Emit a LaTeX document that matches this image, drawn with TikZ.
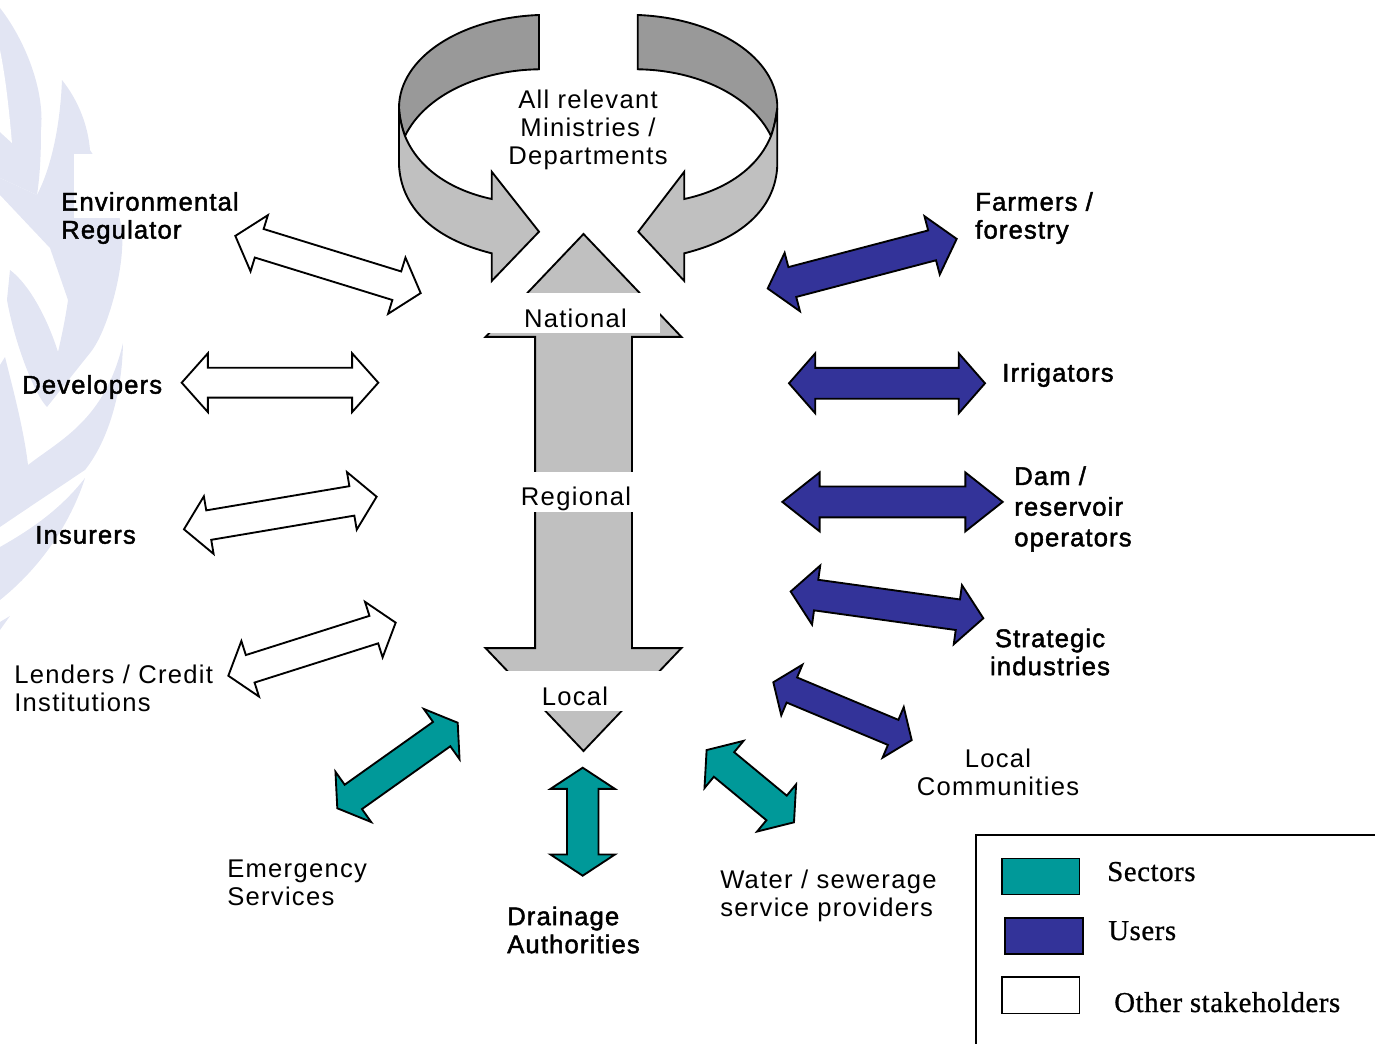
\documentclass[tikz,border=0pt]{standalone}
\usepackage{fontspec}
\setmainfont{Liberation Sans}
\newfontfamily\plainlabel[LetterSpace=5]{Liberation Sans}
\newfontfamily\heavylabel[LetterSpace=4.5,FakeBold=1.8]{Liberation Sans}
\newfontfamily\legendlabel[LetterSpace=2,FakeBold=0.8]{Liberation Serif}
\usetikzlibrary{shapes.arrows}

\definecolor{sectorteal}{HTML}{009999}
\definecolor{userblue}{HTML}{333399}
\definecolor{flowgrey}{HTML}{C0C0C0}
\definecolor{backgrey}{HTML}{999999}
\definecolor{leafblue}{HTML}{E2E5F3}

\tikzset{
    twoway/.style n args={4}{double arrow, draw=black, line width=1.4pt, inner sep=0pt, outer sep=0pt,
        text height={(#3-2)*0.375pt}, text depth={(#3-2)*0.375pt}, text width=0pt,
        minimum height=#1*0.75pt, minimum width=(#2-3)*0.75pt,
        double arrow head extend={(#2-#3-1)/2*0.75pt},
        double arrow tip angle={2*atan(#2/2/#4)}},
    ribbon/.style={draw=black, line width=1.4pt, line join=miter},
    plainnode/.style={font=\plainlabel\fontsize{19.2}{21}\selectfont, inner sep=0pt},
    heavynode/.style={font=\heavylabel\fontsize{19.2}{21}\selectfont, inner sep=0pt},
    legendnode/.style={font=\legendlabel\fontsize{21.6}{24}\selectfont, inner sep=0pt, anchor=base west},
    legendbox/.style={draw=black, line width=1.2pt}
}

\begin{document}
\begin{tikzpicture}[x=0.75pt, y=-0.75pt]
    \useasboundingbox (0,0) rectangle (1375,1044);

    % wheat ear in the background
    \fill[leafblue] (0,8) .. controls (25,40) and (45,90) .. (41,130) .. controls (41,155) and (40,175) .. (37,195) -- (0,178) -- cycle;
    \fill[white] (0,50) .. controls (6,80) and (9,110) .. (12,143) -- (0,132) -- cycle;
    \fill[leafblue] (62,80) .. controls (78,100) and (88,125) .. (90,150) .. controls (110,180) and (125,220) .. (122,250)
        .. controls (120,285) and (105,335) .. (90,353) -- (47,407) .. controls (35,395) and (15,345) .. (7,300)
        -- (10,270) .. controls (30,285) and (48,320) .. (58,352) .. controls (62,335) and (66,315) .. (68,300)
        -- (50,248) -- (0,195) -- (0,178) -- (37,195) .. controls (50,170) and (60,130) .. (62,80) -- cycle;
    \fill[leafblue] (5,357) .. controls (12,385) and (24,430) .. (28,465) .. controls (60,440) and (105,420) .. (123,343)
        .. controls (122,400) and (105,445) .. (85,470)
        .. controls (55,490) and (25,510) .. (0,527) -- (0,365) -- cycle;
    \fill[leafblue] (85,478) .. controls (75,510) and (50,560) .. (0,600) -- (0,547) .. controls (30,530) and (60,510) .. (85,478) -- cycle;
    \fill[leafblue] (0,622) -- (10,616) -- (0,630) -- cycle;
    \fill[white] (74,154) rectangle (255,218);

    % curved arrows from the ministries
    \draw[ribbon, fill=backgrey] (539,15) .. controls (460,18) and (399,58) .. (399,108)
        .. controls (399.5,118) and (402,128) .. (405,136) .. controls (425,95) and (480,70) .. (539,69.3) -- cycle;
    \draw[ribbon, fill=flowgrey] (399,108) -- (399,165) .. controls (401,205) and (430,238) .. (491.7,253.3)
        -- (491.7,281) -- (539,231.7) -- (491.7,171.7) -- (491.7,199)
        .. controls (450,190) and (418,168) .. (405,136) .. controls (402,128) and (399.5,118) .. (399,108) -- cycle;
    \draw[ribbon, fill=backgrey] (637.7,15) .. controls (716,18) and (778,58) .. (777.3,108)
        .. controls (776,118) and (774,128) .. (771,136) .. controls (751,95) and (696,70) .. (637.7,69.3) -- cycle;
    \draw[ribbon, fill=flowgrey] (777.3,108) -- (777.3,165) .. controls (776,205) and (746,238) .. (684.3,253.3)
        -- (684.3,281) -- (638.3,231.7) -- (684.3,171.7) -- (684.3,199)
        .. controls (726,190) and (758,168) .. (771,136) .. controls (774,128) and (776,118) .. (777.3,108) -- cycle;

    % central flow, cut by the level names
    \node[twoway={517}{197}{97}{103.5}, fill=flowgrey, rotate=90] (centralflow) at (583.5,492.5) {};
    \fill[white] (480,293) rectangle (660,333);
    \fill[white] (515,472) rectangle (637,512);
    \fill[white] (480,671) rectangle (690,711);
    \node[plainnode] (national) at (575.5,318) {National};
    \node[plainnode] (regional) at (576,499) {Regional};
    \node[plainnode] (local) at (575,696) {Local};
    \node[plainnode, align=center] (ministries) at (588,130) {All relevant\\Ministries /\\Departments};

    % other stakeholders
    \node[twoway={194}{60}{30}{25.5}, fill=white, rotate=-17.15] (regulatorarrow) at (328,264.5) {};
    \node[twoway={196.6}{60}{30}{26.7}, fill=white] (developersarrow) at (280,382.7) {};
    \node[twoway={195.4}{59.5}{30}{25.6}, fill=white, rotate=9.6] (insurersarrow) at (280.3,513) {};
    \node[twoway={175.6}{59.4}{29}{23.4}, fill=white, rotate=17.6] (lendersarrow) at (312,649.2) {};

    % users
    \node[twoway={195.4}{61.5}{31}{25.9}, fill=userblue, rotate=14.7] (farmersarrow) at (862.2,263.7) {};
    \node[twoway={196}{61}{31}{26.7}, fill=userblue] (irrigatorsarrow) at (887,383.3) {};
    \node[twoway={220.4}{60}{31}{38}, fill=userblue] (damarrow) at (892.5,501.9) {};
    \node[twoway={194.5}{60.8}{31}{26.2}, fill=userblue, rotate=-7.9] (industriesarrow) at (887,604.9) {};
    \node[twoway={150}{56}{27.3}{20.5}, fill=userblue, rotate=-22.7] (communitiesarrow) at (842.5,711.2) {};

    % sectors
    \node[twoway={147.7}{62.8}{30}{20}, fill=sectorteal, rotate=35.4] (emergencyarrow) at (397.5,765.5) {};
    \node[twoway={108}{65.7}{31.6}{21.6}, fill=sectorteal, rotate=90] (drainagearrow) at (582.7,821.7) {};
    \node[twoway={113.4}{62.4}{32}{23}, fill=sectorteal, rotate=-39.6] (waterarrow) at (750.3,786.2) {};

    % labels
    \node[heavynode, anchor=west, align=left] (regulator) at (61,218) {Environmental\\Regulator};
    \node[heavynode, anchor=west] (developers) at (22,387) {Developers};
    \node[heavynode, anchor=west] (insurers) at (35,535) {Insurers};
    \node[plainnode, anchor=west, align=left] (lenders) at (14,688) {Lenders / Credit\\Institutions};
    \node[plainnode, anchor=west, align=left] (emergency) at (227,883) {Emergency\\Services};
    \node[heavynode, anchor=west, align=left] (drainage) at (507,930) {Drainage\\Authorities};
    \node[plainnode, anchor=west, align=left] (water) at (720,896) {Water / sewerage\\service providers};
    \node[plainnode, align=center] (communities) at (998,772) {Local\\Communities};
    \node[heavynode, align=center] (industries) at (1050,652) {Strategic\\industries};
    \node[heavynode, anchor=west, align=left] (dam) at (1014,509) {Dam /\\[2pt]reservoir\\[2pt]operators};
    \node[heavynode, anchor=west] (irrigators) at (1002,375) {Irrigators};
    \node[heavynode, anchor=west, align=left] (farmers) at (975,218) {Farmers /\\forestry};

    % legend
    \draw[legendbox] (976,1044) -- (976,835) -- (1375,835);
    \draw[legendbox, fill=sectorteal] (1001.7,858.3) rectangle (1079.3,894.3);
    \draw[legendbox, fill=userblue] (1005,917.7) rectangle (1082.7,954);
    \draw[legendbox, fill=white] (1001.7,977) rectangle (1079.3,1013.3);
    \node[legendnode] (sectors) at (1107,881) {Sectors};
    \node[legendnode] (users) at (1108,940) {Users};
    \node[legendnode] (others) at (1114,1012) {Other stakeholders};
\end{tikzpicture}
\end{document}
